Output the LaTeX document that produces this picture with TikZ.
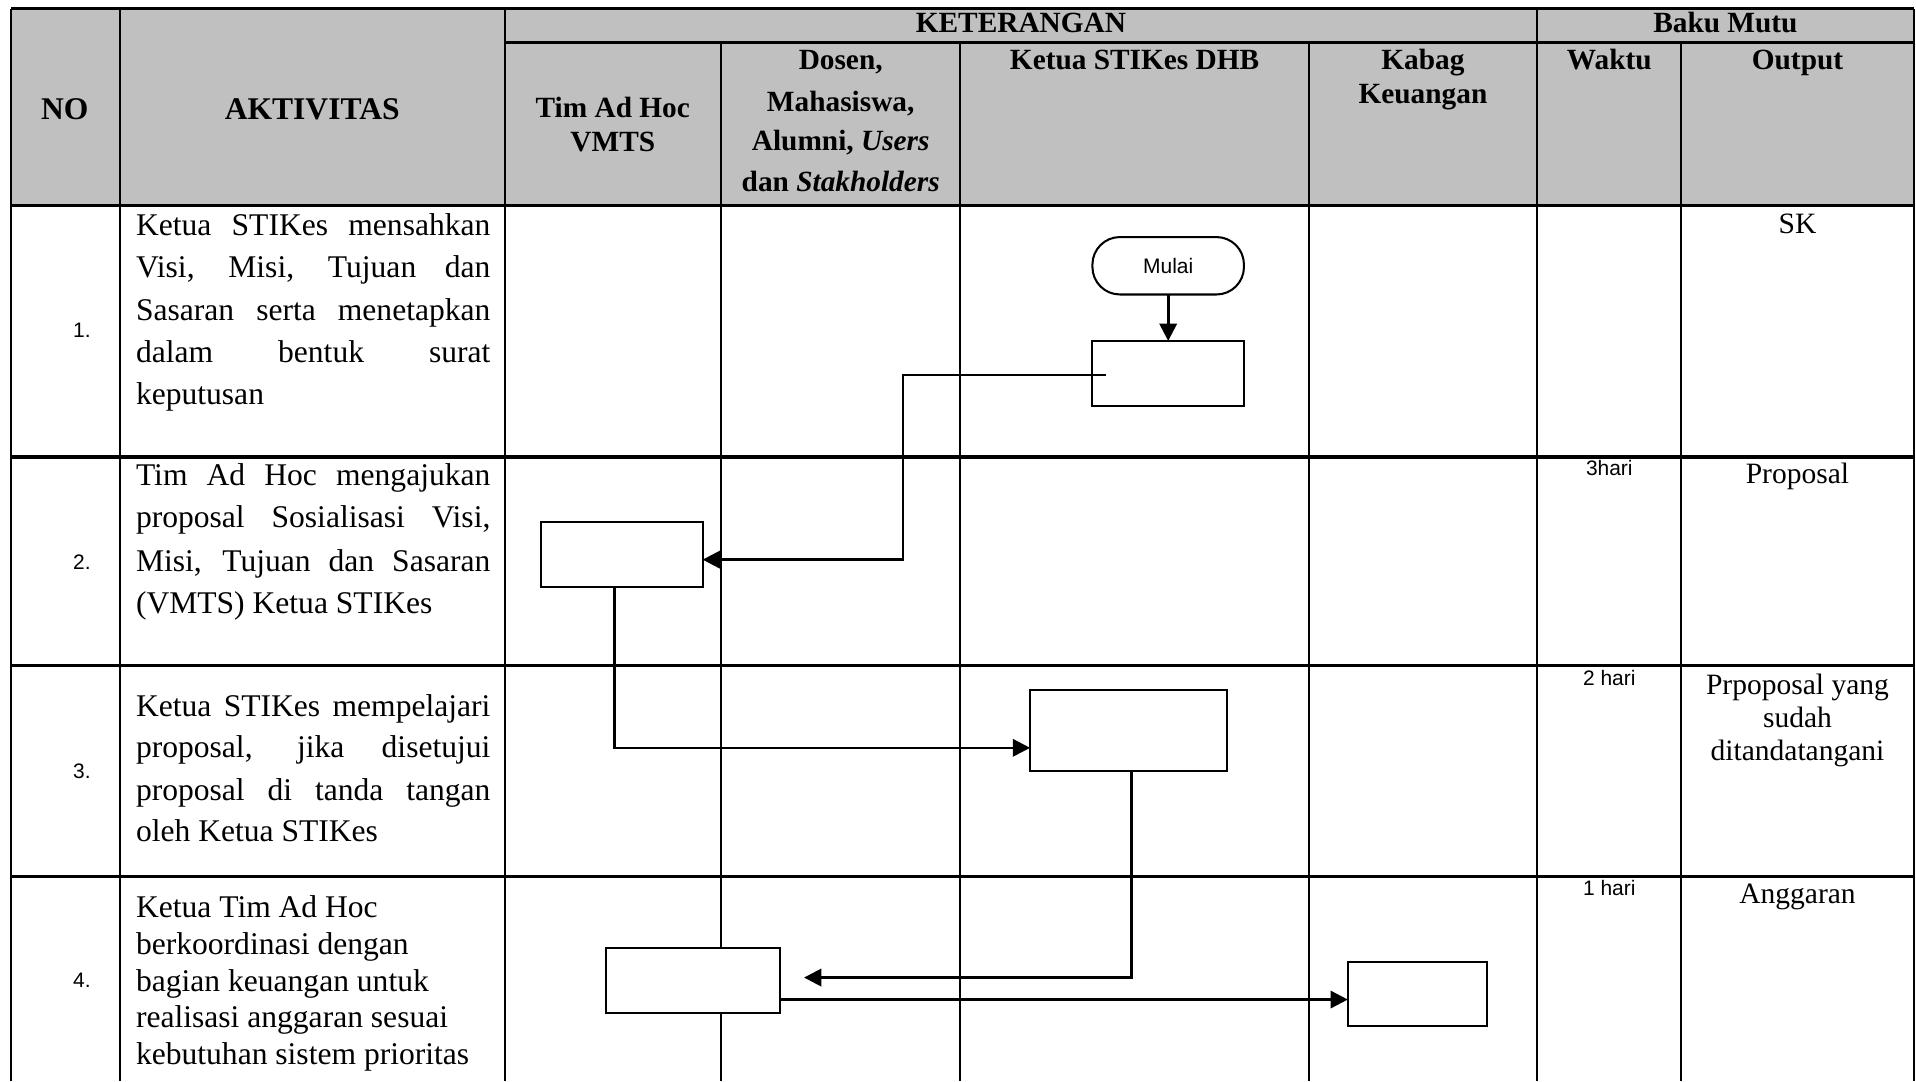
\documentclass[tikz,border=0pt]{standalone}
\usepackage{fontspec}
\setmainfont{Liberation Serif}
\newfontfamily\arialf{Liberation Sans}
\usetikzlibrary{arrows.meta}
\definecolor{hdr}{RGB}{192,192,192}
\begin{document}
\begin{tikzpicture}[x=0.6pt,y=-0.6pt,
  hline/.style={line width=1.5pt},
  vline/.style={line width=1.0pt},
  proc/.style={draw, line width=1.0pt, fill=white, inner sep=0pt, outer sep=0pt},
  arr/.style={line width=1.3pt, -{Triangle[length=8.5pt,width=8.5pt]}},
  hdbig/.style={font=\bfseries\fontsize{15.5}{18}\selectfont, anchor=base, inner sep=0pt},
  hd/.style={font=\bfseries\fontsize{14.4}{17}\selectfont, anchor=base, inner sep=0pt},
  txt/.style={font=\fontsize{15.5}{18}\selectfont, anchor=base west, inner sep=0pt},
  outp/.style={font=\fontsize{14.5}{17}\selectfont, anchor=base, inner sep=0pt},
  small/.style={font=\arialf\fontsize{10.3}{12}\selectfont, anchor=base, inner sep=0pt}
]
\useasboundingbox (0,0) rectangle (1568,885);
% header background
\fill[hdr] (9,7) rectangle (1566,168);
% horizontal lines
\draw[hline] (9,7) -- (1566,7);
\draw[hline] (413,35) -- (1566,35);
\draw[hline] (9,168) -- (1566,168);
\foreach \y in {374,545,717} \draw[hline] (9,\y) -- (1566,\y);
% vertical lines
\foreach \x in {9,98,413,1258,1566} \draw[vline] (\x,7) -- (\x,885);
\foreach \x in {590,786,1071,1376} \draw[vline] (\x,35) -- (\x,885);

% header texts
\node[hdbig] (hNO) at (53,97.5) {NO};
\node[hdbig] (hAK) at (255.5,97.5) {AKTIVITAS};
\node[hd] (hKET) at (835.5,27) {KETERANGAN};
\node[hd] (hBM) at (1412,27) {Baku Mutu};
\node[hd] (hTim1) at (501.5,96) {Tim Ad Hoc};
\node[hd] (hTim2) at (501.5,124) {VMTS};
\node[hd] (hDos1) at (688,57) {Dosen,};
\node[hd] (hDos2) at (688,91) {Mahasiswa,};
\node[hd] (hDos3) at (688,123) {Alumni, \textit{Users}};
\node[hd] (hDos4) at (688,157) {dan \textit{Stakholders}};
\node[hd] (hKetua) at (928.5,57) {Ketua STIKes DHB};
\node[hd] (hKab1) at (1164.5,57) {Kabag};
\node[hd] (hKab2) at (1164.5,85) {Keuangan};
\node[hd] (hWak) at (1317,57) {Waktu};
\node[hd] (hOut) at (1471,57) {Output};

% row numbers
\node[small] (n1) at (67,276) {1.};
\node[small] (n2) at (67,466) {2.};
\node[small] (n3) at (67,637) {3.};
\node[small] (n4) at (67,808) {4.};

% activity texts
\node[txt] (r1a) at (111,193) {\makebox[174pt][s]{Ketua STIKes mensahkan}};
\node[txt] (r1b) at (111,227) {\makebox[174pt][s]{Visi, Misi, Tujuan dan}};
\node[txt] (r1c) at (111,262) {\makebox[174pt][s]{Sasaran serta menetapkan}};
\node[txt] (r1d) at (111,297) {\makebox[174pt][s]{dalam bentuk surat}};
\node[txt] (r1e) at (111,331) {keputusan};

\node[txt] (r2a) at (111,397) {\makebox[174pt][s]{Tim Ad Hoc mengajukan}};
\node[txt] (r2b) at (111,432) {\makebox[174pt][s]{proposal Sosialisasi Visi,}};
\node[txt] (r2c) at (111,468) {\makebox[174pt][s]{Misi, Tujuan dan Sasaran}};
\node[txt] (r2d) at (111,502) {(VMTS) Ketua STIKes};

\node[txt] (r3a) at (111,586) {\makebox[174pt][s]{Ketua STIKes mempelajari}};
\node[txt] (r3b) at (111,620) {\makebox[174pt][s]{proposal, jika disetujui}};
\node[txt] (r3c) at (111,655) {\makebox[174pt][s]{proposal di tanda tangan}};
\node[txt] (r3d) at (111,689) {oleh Ketua STIKes};

\node[txt] (r4a) at (111,751) {Ketua Tim Ad Hoc};
\node[txt] (r4b) at (111,781) {berkoordinasi dengan};
\node[txt] (r4c) at (111,811) {bagian keuangan untuk};
\node[txt] (r4d) at (111,841) {realisasi anggaran sesuai};
\node[txt] (r4e) at (111,871) {kebutuhan sistem prioritas};

% waktu
\node[small] (w2) at (1317,389) {3hari};
\node[small] (w3) at (1317,561) {2 hari};
\node[small] (w4) at (1317,733) {1 hari};

% output
\node[outp] (o1) at (1471,191) {SK};
\node[outp] (o2) at (1471,396) {Proposal};
\node[outp] (o3a) at (1471,568) {Prpoposal yang};
\node[outp] (o3b) at (1471,595) {sudah};
\node[outp] (o3c) at (1471,622) {ditandatangani};
\node[outp] (o4) at (1471,739) {Anggaran};

% flowchart nodes
\node[proc, minimum width=74.4pt, minimum height=28.2pt, rounded corners=13.5pt,
      font=\arialf\fontsize{10.3}{12}\selectfont] (mulai) at (956,217.5) {Mulai};
\node[proc, minimum width=74.4pt, minimum height=31.8pt] (box1) at (956,305.5) {};
\node[proc, minimum width=79.2pt, minimum height=31.8pt] (box2) at (509,453.5) {};
\node[proc, minimum width=96.6pt, minimum height=39.6pt] (box3) at (923.5,598) {};
\node[proc, minimum width=85.2pt, minimum height=31.8pt] (box4) at (567,802.5) {};
\node[proc, minimum width=68.4pt, minimum height=31.8pt] (box5) at (1160,813.5) {};

% connectors
\draw[arr] (mulai) -- (box1);
\draw[arr] ([xshift=6.6pt,yshift=-0.9pt]box1.west) -| (739,380) |- ([yshift=-2.7pt]box2.east);
\draw[arr] ([xshift=-3.6pt]box2.south) |- ([yshift=-8.4pt]box3.west);
\draw[arr] ([xshift=1.5pt]box3.south) |- ([xshift=12pt,yshift=1.5pt]box4.east);
\draw[arr] ([yshift=-9.3pt]box4.east) -- ([yshift=-2.7pt]box5.west);
\end{tikzpicture}
\end{document}
